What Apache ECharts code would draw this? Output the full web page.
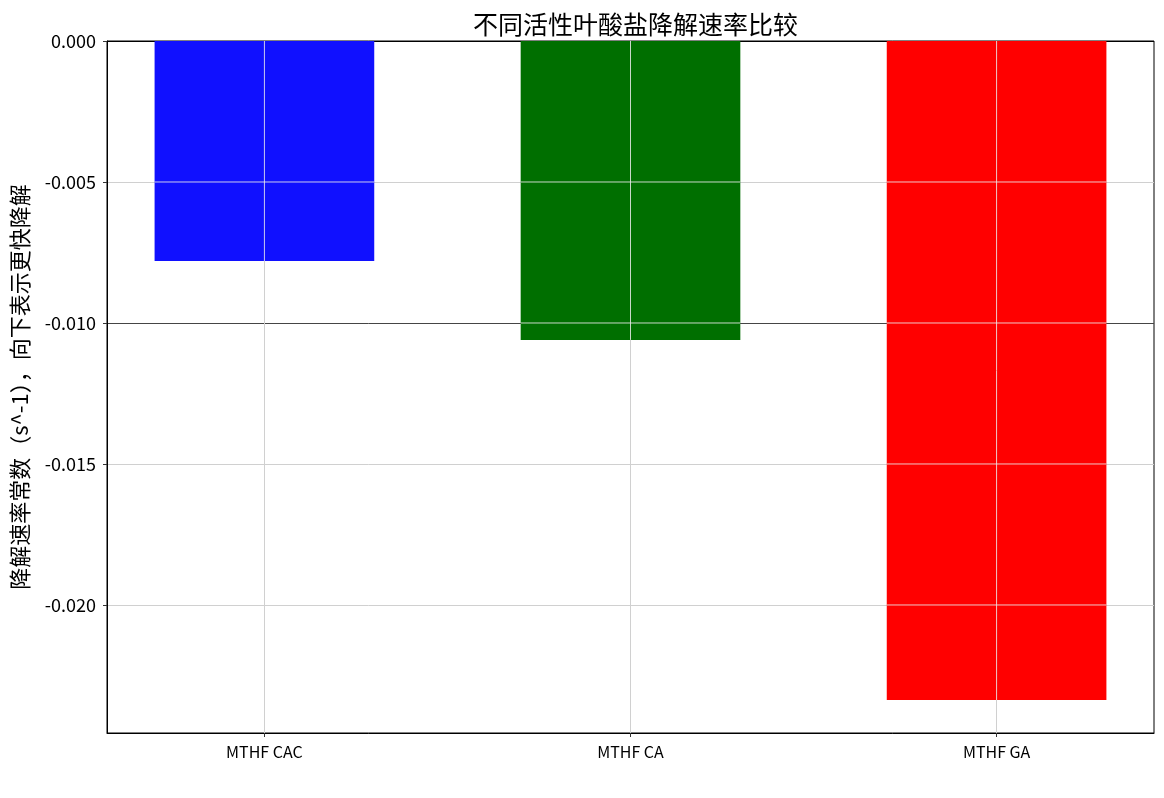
<!DOCTYPE html>
<html>
<head>
<meta charset="utf-8">
<script src="https://cdn.jsdelivr.net/npm/echarts@6/dist/echarts.min.js"></script>
<style>
html,body{margin:0;padding:0;background:#fff;}
#chart{width:1164px;height:798px;}
</style>
</head>
<body>
<div id="chart"></div>
<script>
var categories = ['MTHF CAC', 'MTHF CA', 'MTHF GA'];
var rateValues = [-0.0078, -0.0106, -0.02337];
var barColors = ['#1010ff', '#006f00', '#ff0000'];
var yTicks = [0, -0.005, -0.010, -0.015, -0.020];
var xTicks = [0, 1, 2];
var refLine = -0.010;

var FONT = '"Noto Sans CJK SC", "DejaVu Sans", sans-serif';
var GRID_LIGHT = '#d0d0d0';
var GRID_OVER = 'rgba(235,235,235,0.85)';
var BAR_W = 0.6;

var chart = echarts.init(document.getElementById('chart'), null, {renderer: 'canvas'});
var barData = rateValues.map(function (v, i) {
  return {value: [i, v], itemStyle: {color: barColors[i]}};
});

// split line colours follow the order of the custom tick values
var ySplitColors = yTicks.map(function (t) {
  if (Math.abs(t - refLine) < 1e-9) return '#454545';
  if (t === 0) return '#000';
  return GRID_LIGHT;
});

chart.setOption({
  animation: false,
  backgroundColor: '#ffffff',
  title: {
    text: '不同活性叶酸盐降解速率比较',
    left: 468,
    top: 7,
    textStyle: {fontFamily: FONT, fontSize: 25, fontWeight: 'normal', color: '#000'}
  },
  grid: {left: 107, right: 10, top: 41, bottom: 65, show: true, borderColor: '#000', borderWidth: 1, backgroundColor: 'transparent'},
  xAxis: {
    type: 'value',
    min: -0.43,
    max: 2.43,
    axisLine: {show: true, onZero: false, lineStyle: {color: '#000', width: 1}},
    axisTick: {show: true, customValues: xTicks, length: 4, inside: false, lineStyle: {color: '#333'}},
    axisLabel: {
      customValues: xTicks,
      margin: 11,
      fontFamily: FONT, fontSize: 16, color: '#000',
      formatter: function (v) { return categories[Math.round(v)] || ''; }
    },
    splitLine: {show: true, lineStyle: {color: GRID_LIGHT, width: 1}}
  },
  yAxis: {
    type: 'value',
    min: -0.02454,
    max: 0,
    name: '降解速率常数（s^-1），向下表示更快降解',
    nameLocation: 'middle',
    nameGap: 76,
    nameTextStyle: {fontFamily: FONT, fontSize: 22, color: '#000'},
    axisLine: {show: true, onZero: false, lineStyle: {color: '#000', width: 1}},
    axisTick: {show: true, customValues: yTicks, length: 4, lineStyle: {color: '#333'}},
    axisLabel: {
      customValues: yTicks,
      margin: 11,
      fontFamily: FONT, fontSize: 18, color: '#000',
      formatter: function (v) { return v.toFixed(3); }
    },
    splitLine: {show: true, lineStyle: {color: ySplitColors, width: 1}}
  },
  series: [
    {
      type: 'bar',
      barWidth: (BAR_W * 100) + '%',
      data: barData,
      z: 2
    },
    {
      type: 'custom',
      z: 3,
      silent: true,
      data: rateValues.map(function (v, i) { return [i, v]; }),
      renderItem: function (params, api) {
        var xi = api.value(0), v = api.value(1);
        var top = api.coord([xi, 0]);
        var bot = api.coord([xi, v]);
        var half = api.size([BAR_W, 0])[0] / 2;
        var children = [{
          type: 'line',
          shape: {x1: top[0], y1: top[1], x2: bot[0], y2: bot[1]},
          style: {stroke: GRID_OVER, lineWidth: 1}
        }];
        yTicks.forEach(function (t) {
          if (t < 0 && t >= v) {
            var p = api.coord([xi, t]);
            children.push({
              type: 'line',
              shape: {x1: p[0] - half, y1: p[1], x2: p[0] + half, y2: p[1]},
              style: {stroke: GRID_OVER, lineWidth: 1}
            });
          }
        });
        return {type: 'group', children: children};
      }
    }
  ]
});
</script>
</body>
</html>
